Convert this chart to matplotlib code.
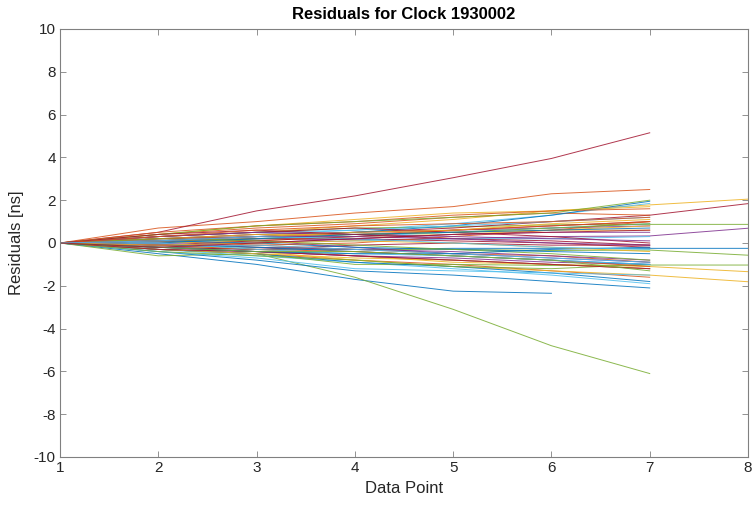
import matplotlib
matplotlib.use("Agg")
import matplotlib.pyplot as plt

title = "Residuals for Clock 1930002"
xlabel = "Data Point"
ylabel = "Residuals [ns]"
xticks = [1, 2, 3, 4, 5, 6, 7, 8]
yticks = [-10, -8, -6, -4, -2, 0, 2, 4, 6, 8, 10]

# residual series (each starts at data point 1)
series = [
    # group 1
    [0, -0.5, -1.0, -1.7, -2.25, -2.35],
    [0, 0.7, 1.0, 1.4, 1.7, 2.3, 2.5],
    [0, 0.3, 0.5, 0.8, 1.1, 1.5, 1.78, 2.05],
    [0, 0.1, 0.2, 0.15, 0.2, 0.3, 0.33, 0.69],
    [0, -0.6, -0.5, -1.6, -3.1, -4.8, -6.1],
    [0, 0.2, 0.4, 0.6, 0.9, 1.3, 1.85],
    [0, 0.5, 1.5, 2.2, 3.05, 3.95, 5.15],
    # group 2
    [0, -0.2, -0.3, -0.3, -0.25, -0.25, -0.25, -0.25],
    [0, -0.3, -0.5, -0.8, -1.0, -1.3, -1.6],
    [0, -0.1, -0.3, -0.6, -0.9, -1.0, -1.1, -1.34],
    [0, 0.1, 0.3, 0.5, 0.6, 0.7, 0.8],
    [0, 0.3, 0.5, 0.7, 0.75, 0.85, 0.87, 0.87],
    [0, -0.3, -0.6, -0.9, -1.2, -1.5, -1.9],
    [0, 0.2, 0.4, 0.5, 0.7, 1.0, 1.3, 1.84],
    # group 3
    [0, -0.4, -0.8, -1.3, -1.5, -1.8, -2.1],
    [0, 0.4, 0.7, 0.9, 1.2, 1.4, 1.3],
    [0, -0.2, -0.4, -0.8, -1.1, -1.3, -1.5, -1.81],
    [0, -0.3, -0.4, -0.6, -0.8, -1.0, -1.2],
    [0, -0.1, -0.2, -0.3, -0.3, -0.35, -0.33, -0.57],
    [0, 0.1, 0.2, 0.3, 0.5, 0.7, 0.9],
    [0, -0.2, -0.3, -0.1, 0.0, -0.1, -0.1],
    # group 4
    [0, 0.2, 0.3, 0.5, 0.8, 1.3, 1.95],
    [0, 0.1, -0.1, -0.3, -0.5, -0.6, -0.9],
    [0, 0.4, 0.8, 1.1, 1.4, 1.5, 1.7],
    [0, -0.2, -0.4, -0.6, -0.7, -0.9, -1.0],
    [0, -0.3, -0.5, -1.0, -1.0, -1.05, -1.03, -1.03],
    [0, -0.1, 0.0, 0.1, 0.2, 0.2, 0.3],
    [0, 0.1, 0.2, 0.2, 0.1, 0.0, -0.2],
    # group 5
    [0, -0.3, -0.5, -0.9, -1.1, -1.4, -1.8],
    [0, 0.5, 0.8, 1.0, 1.3, 1.5, 1.6],
    [0, 0.0, 0.1, 0.3, 0.4, 0.6, 0.8],
    [0, 0.2, 0.1, -0.2, -0.5, -0.7, -0.9],
    [0, 0.4, 0.8, 1.0, 1.2, 1.4, 2.0],
    [0, -0.4, -0.7, -1.2, -1.3, -1.4, -1.5],
    [0, -0.1, 0.1, 0.3, 0.6, 0.8, 1.0],
    # group 6
    [0, 0.1, 0.0, -0.2, -0.3, -0.4, -0.5],
    [0, -0.2, -0.1, 0.0, 0.3, 0.6, 1.0],
    [0, 0.2, 0.4, 0.4, 0.5, 0.6, 0.6],
    [0, 0.0, -0.2, -0.3, -0.4, -0.6, -0.8],
    [0, -0.4, -0.6, -0.8, -1.1, -1.2, -1.0],
    [0, 0.3, 0.5, 0.6, 0.8, 1.0, 1.2],
    [0, 0.3, 0.5, 0.7, 0.5, 0.3, 0.0],
    # group 7
    [0, -0.1, -0.2, -0.4, -0.6, -0.8, -1.0],
    [0, 0.2, 0.3, 0.4, 0.6, 0.8, 1.0],
    [0, -0.3, -0.5, -0.7, -0.8, -1.0, -1.2],
    [0, 0.3, 0.5, 0.4, 0.3, 0.2, 0.1],
    [0, 0.1, 0.2, 0.4, 0.5, 0.7, 0.9],
    [0, -0.2, -0.1, -0.3, -0.5, -0.7, -0.9],
    [0, -0.3, -0.4, -0.6, -0.8, -1.0, -1.2],
    # group 8
    [0, 0.0, 0.2, 0.4, 0.5, 0.6, 0.7],
    [0, -0.1, -0.3, -0.4, -0.6, -0.8, -1.1],
    [0, 0.1, 0.3, 0.5, 0.6, 0.9, 1.1],
    [0, -0.1, 0.0, 0.2, 0.4, 0.5, 0.5],
    [0, 0.2, 0.1, -0.1, -0.3, -0.5, -0.8],
    [0, 0.0, -0.3, -0.5, -0.6, -0.8, -1.0],
    [0, 0.4, 0.6, 0.4, 0.2, 0.1, -0.1],
    # group 9
    [0, -0.2, -0.4, -0.5, -0.5, -0.3, -0.2],
    [0, 0.3, 0.6, 0.8, 0.9, 1.0, 1.2],
    [0, -0.1, 0.0, 0.1, 0.0, -0.2, -0.4],
    [0, 0.1, 0.3, 0.3, 0.2, 0.0, -0.1],
    [0, -0.2, -0.4, -0.4, -0.6, -0.8, -1.3],
    [0, 0.1, 0.3, 0.2, 0.0, -0.2, -0.3],
    [0, -0.2, 0.0, 0.2, 0.4, 0.5, 0.6],
]

colors = ["#0072BD", "#D95319", "#EDB120", "#7E2F8E", "#77AC30", "#4DBEEE", "#A2142F"]

plt.rcParams['font.family'] = ['Liberation Sans', 'DejaVu Sans']
plt.rcParams['axes.unicode_minus'] = False
fig = plt.figure(figsize=(7.55, 5.07), dpi=100)
ax = fig.add_axes([60/755, 50/507, 688/755, 428/507])
ax.set_prop_cycle(color=colors)
for s in series:
    ax.plot(range(1, len(s) + 1), s, linewidth=0.7, alpha=0.85)

ax.set_xlim(1, 8)
ax.set_ylim(-10, 10)
ax.set_xticks(xticks)
ax.set_yticks(yticks)
axc = "#262626"
for sp in ax.spines.values():
    sp.set_color("#808080")
    sp.set_linewidth(0.8)
ax.tick_params(direction='in', length=4, width=0.6, color="#808080", labelcolor=axc,
               labelsize=11, top=True, right=True, pad=3)
ax.set_xlabel(xlabel, fontsize=12, color=axc, labelpad=4)
ax.set_ylabel(ylabel, fontsize=12, color=axc, labelpad=7)
ax.set_title(title, fontsize=12, fontweight='bold', color='black', pad=7)
fig.savefig("out.png", dpi=100)
